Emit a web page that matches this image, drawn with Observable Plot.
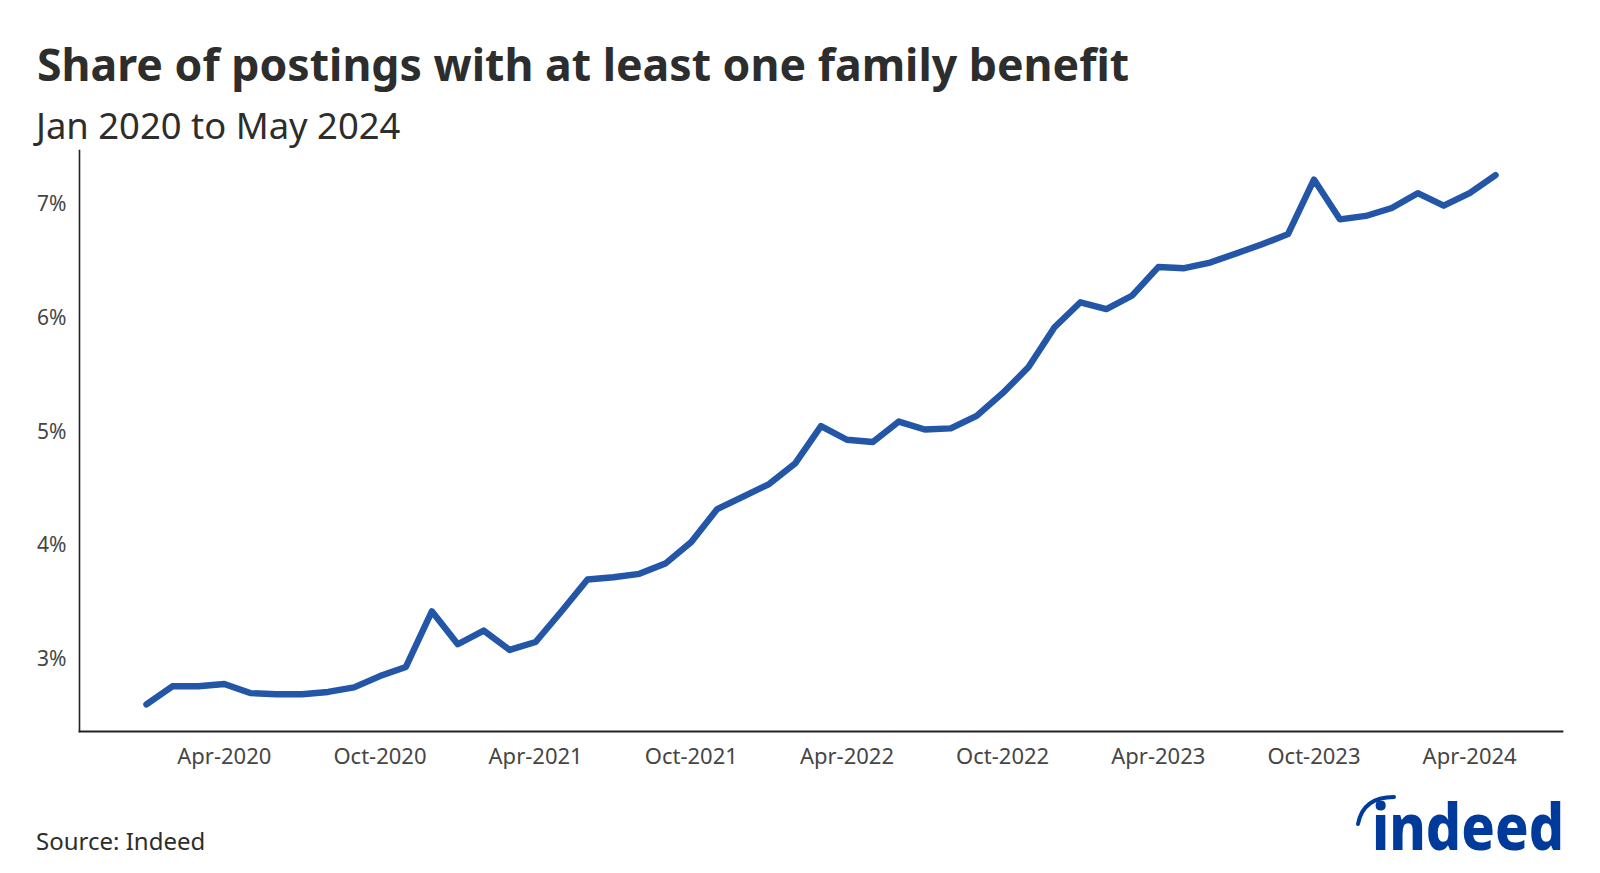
<!DOCTYPE html>
<html>
<head>
<meta charset="utf-8">
<script src="https://cdn.jsdelivr.net/npm/d3@7"></script>
<script src="https://cdn.jsdelivr.net/npm/@observablehq/plot@0.6"></script>
<style>
  html, body { margin: 0; padding: 0; background: #fff; width: 1600px; height: 873px; overflow: hidden; }
  body { font-family: "Noto Sans", "Open Sans", sans-serif; position: relative; }
  .txt { position: absolute; white-space: nowrap; line-height: normal; }
  #title { left: 37px; top: 33px; font-size: 44.6px; font-weight: 700; color: #2d2d2d; }
  #subtitle { left: 36px; top: 100px; font-size: 36.4px; font-weight: 400; color: #2d2d2d; }
  #source { left: 36px; top: 824px; font-size: 24px; color: #2d2d2d; }
  #chart { position: absolute; left: 0; top: 140px; }
  #logo { position: absolute; left: 1340px; top: 770px; overflow: visible; }
</style>
</head>
<body>
<div id="title" class="txt">Share of postings with at least one family benefit</div>
<div id="subtitle" class="txt">Jan 2020 to May 2024</div>
<div id="chart"></div>
<div id="source" class="txt">Source: Indeed</div>
<svg id="logo" width="250" height="100" viewBox="0 0 250 100">
  <path d="M18 54 Q23 27 54 27" fill="none" stroke="#003a9b" stroke-width="4" stroke-linecap="round"/>
  <text x="32" y="80" font-family="Noto Sans, sans-serif" font-weight="800" font-size="64" fill="#003a9b" textLength="192" lengthAdjust="spacingAndGlyphs">indeed</text>
</svg>
<script>
const months = [
  "Jan-2020","Feb-2020","Mar-2020","Apr-2020","May-2020","Jun-2020","Jul-2020","Aug-2020","Sep-2020","Oct-2020","Nov-2020","Dec-2020",
  "Jan-2021","Feb-2021","Mar-2021","Apr-2021","May-2021","Jun-2021","Jul-2021","Aug-2021","Sep-2021","Oct-2021","Nov-2021","Dec-2021",
  "Jan-2022","Feb-2022","Mar-2022","Apr-2022","May-2022","Jun-2022","Jul-2022","Aug-2022","Sep-2022","Oct-2022","Nov-2022","Dec-2022",
  "Jan-2023","Feb-2023","Mar-2023","Apr-2023","May-2023","Jun-2023","Jul-2023","Aug-2023","Sep-2023","Oct-2023","Nov-2023","Dec-2023",
  "Jan-2024","Feb-2024","Mar-2024","Apr-2024","May-2024"
];
const shares = [
  2.60, 2.76, 2.76, 2.78, 2.70, 2.69, 2.69, 2.71, 2.75, 2.85, 2.93, 3.42,
  3.13, 3.25, 3.08, 3.15, 3.42, 3.70, 3.72, 3.75, 3.84, 4.03, 4.32, 4.43,
  4.54, 4.72, 5.05, 4.93, 4.91, 5.09, 5.02, 5.03, 5.14, 5.34, 5.57, 5.92,
  6.14, 6.08, 6.20, 6.45, 6.44, 6.49, 6.57, 6.65, 6.74, 7.22, 6.87, 6.90,
  6.97, 7.10, 6.99, 7.10, 7.26
];
const xTickLabels = ["Apr-2020","Oct-2020","Apr-2021","Oct-2021","Apr-2022","Oct-2022","Apr-2023","Oct-2023","Apr-2024"];
const yTickValues = [3, 4, 5, 6, 7];

const data = months.map((m, i) => ({month: m, share: shares[i]}));

const chart = Plot.plot({
  width: 1600,
  height: 650,
  marginLeft: 79,
  marginRight: 38,
  marginTop: 10,
  marginBottom: 59,
  style: {fontFamily: "Noto Sans, Open Sans, sans-serif", color: "#404040", background: "transparent"},
  x: {type: "point", domain: months, padding: 2.58, label: null},
  y: {domain: [2.362, 7.476], label: null},
  marks: [
    Plot.frame({anchor: "left", stroke: "#222", strokeWidth: 1.6}),
    Plot.frame({anchor: "bottom", stroke: "#222", strokeWidth: 1.8}),
    Plot.axisY({ticks: yTickValues, tickSize: 0, tickPadding: 13, tickFormat: d => d + "%", fontSize: 21, label: null, fill: "#454545"}),
    Plot.axisX({ticks: xTickLabels, tickSize: 0, tickPadding: 17, fontSize: 22, label: null, fill: "#454545"}),
    Plot.line(data, {x: "month", y: "share", stroke: "#2356a6", strokeWidth: 6.4, strokeLinecap: "round", strokeLinejoin: "round"})
  ]
});
document.getElementById("chart").appendChild(chart);
</script>
</body>
</html>
